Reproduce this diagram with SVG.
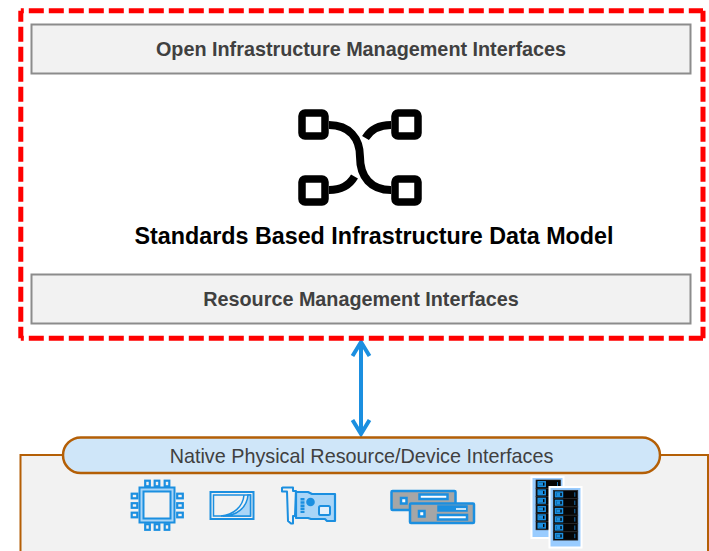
<svg xmlns="http://www.w3.org/2000/svg" width="709" height="551" viewBox="0 0 709 551">
<defs>
<style>
text{font-family:"Liberation Sans",Arial,sans-serif;text-anchor:middle}
.b{font-weight:bold}
.g{fill:#f2f2f2;stroke:#8c8c8c;stroke-width:2}
.i{fill:none;stroke:#000;stroke-width:8}
.s{fill:none;stroke:#000;stroke-width:7.500}
.d{fill:none;stroke:#ff0000;stroke-width:5;stroke-dasharray:15 5}
.bl{fill:none;stroke:#1b8fe0;stroke-width:2}
.p{fill:#a9d5f7;stroke:#1b8fe0;stroke-width:2}
.sv{fill:#a6a6a6;stroke:#1b8fe0;stroke-width:2.500}
.sl{fill:#fff;stroke:#1b8fe0;stroke-width:2.500}
.u{fill:#050505;stroke:#2a2a2a;stroke-width:.7}
.ub{fill:none;stroke:#1b8fe0;stroke-width:1.500}
</style>
<g id="pin"><rect x="-2.300" y="-2.800" width="4.600" height="5.600" fill="#f2f2f2" stroke="#1b8fe0" stroke-width="2.200"/></g>
<g id="pinh"><rect x="-2.800" y="-2.300" width="5.600" height="4.600" fill="#f2f2f2" stroke="#1b8fe0" stroke-width="2.200"/></g>
<g id="rack">
<rect class="u" x="0" y="0" width="24.500" height="8.300"/>
<rect class="ub" x="2.200" y="1.800" width="7" height="4.600"/>
<rect x="3" y="2.500" width="4" height="3.200" fill="#1b8fe0"/>
<line x1="21.500" y1="2" x2="21.500" y2="6.400" stroke="#1b6fb0" stroke-width="1"/>
</g>
</defs>

<g id="platform-box">
<rect x="20.500" y="455" width="687.500" height="110" fill="#f2f2f2" stroke="#b45f06" stroke-width="2"/>
</g>

<g id="connectors">
<path d="M361 343V432" fill="none" stroke="#1b8fe0" stroke-width="4"/>
<path d="M352.500 356L361 342L369.500 356M352.500 420L361 434L369.500 420" fill="none" stroke="#1b8fe0" stroke-width="4"/>
</g>

<g id="data-model-frame">
<path class="d" d="M20.800 10.800H703" stroke-dashoffset="12"/>
<path class="d" d="M20.800 338.300H703" stroke-dashoffset="12"/>
<path class="d" d="M20.800 10.800V338.300" stroke-dashoffset="4"/>
<path class="d" d="M703 10.800V338.300" stroke-dashoffset="4"/>
</g>

<g id="open-interfaces">
<rect class="g" x="31.500" y="24.500" width="659" height="49"/>
<text class="b" x="361" y="56" font-size="19.800" fill="#404040">Open Infrastructure Management Interfaces</text>
</g>

<g id="data-model">
<rect class="s" x="302" y="113" width="23" height="23" rx="3"/>
<rect class="s" x="395" y="113" width="23" height="23" rx="3"/>
<rect class="s" x="302" y="179" width="23" height="23" rx="3"/>
<rect class="s" x="395" y="179" width="23" height="23" rx="3"/>
<path class="i" d="M329 125C349 125 360 138 360 157C360 177 371 190 391 190"/>
<path class="i" d="M391 125C379 125 371 129 365.500 138"/>
<path class="i" d="M329 190C341 190 349 186 354.500 176.500"/>
<text class="b" x="374" y="244" font-size="23.300" fill="#000">Standards Based Infrastructure Data Model</text>
</g>

<g id="resource-interfaces">
<rect class="g" x="31.500" y="274.500" width="659" height="49"/>
<text class="b" x="361" y="306" font-size="19.800" fill="#404040">Resource Management Interfaces</text>
</g>

<g id="native-interfaces">
<rect x="63" y="437.500" width="597" height="35.500" rx="17.750" fill="#cfe6f9" stroke="#b45f06" stroke-width="2.500"/>
<text x="361.500" y="463" font-size="19.800" fill="#404040">Native Physical Resource/Device Interfaces</text>
</g>

<g id="cpu-icon">
<rect class="p" x="139.500" y="487.500" width="35" height="35"/>
<rect x="143.500" y="491.500" width="27" height="27" fill="#f2f2f2" stroke="#1b8fe0" stroke-width="2"/>
<use href="#pin" x="147.500" y="483.500"/><use href="#pin" x="157" y="483.500"/><use href="#pin" x="167" y="483.500"/>
<use href="#pin" x="147.500" y="527"/><use href="#pin" x="157" y="527"/><use href="#pin" x="167" y="527"/>
<use href="#pinh" x="134.500" y="496"/><use href="#pinh" x="134.500" y="505.500"/><use href="#pinh" x="134.500" y="515"/>
<use href="#pinh" x="180" y="496"/><use href="#pinh" x="180" y="505.500"/><use href="#pinh" x="180" y="515"/>
</g>

<g id="card-icon">
<rect x="210.500" y="492" width="43" height="27" fill="#f2f2f2" stroke="#1b8fe0" stroke-width="2"/>
<rect x="213.500" y="495" width="37" height="21" fill="none" stroke="#1b8fe0" stroke-width="1.500"/>
<path d="M248 495C247 508 236 516 223 516H250.500V495Z" fill="#a9d5f7" stroke="#1b8fe0" stroke-width="1.500"/>
<path d="M244 495C243 507 233 515 221 516" fill="none" stroke="#1b8fe0" stroke-width="1.500"/>
</g>

<g id="nic-icon">
<path d="M282 488V491.500H287L288 521L291 523.500H293V516H295L296 491H293V487.500H283Z" fill="#f2f2f2" stroke="#1b8fe0" stroke-width="2" stroke-linejoin="round"/>
<path d="M296 492H308L312 494H335V521H327L325 519H311L308 518H296Z" fill="#a9d5f7" stroke="#1b8fe0" stroke-width="2.200" stroke-linejoin="round"/>
<circle cx="310.500" cy="502" r="4.300" fill="#1b8fe0"/>
<path d="M302.500 498V513" stroke="#1b8fe0" stroke-width="4" stroke-dasharray="2.500 .7"/>
<rect x="319" y="506" width="11" height="9" rx="1.500" fill="#e4f0fb" stroke="#1b8fe0" stroke-width="2"/>
</g>

<g id="server-icon">
<rect class="sv" x="391.500" y="491" width="64" height="19" rx="1"/>
<rect class="sl" x="419.500" y="494.500" width="28" height="4.500"/>
<rect class="sl" x="401" y="498" width="5.500" height="5.500"/>
<rect class="sv" x="410" y="503.500" width="64" height="19.500" rx="1"/>
<rect x="438" y="506" width="29" height="5" fill="#1b8fe0" stroke="#1b8fe0" stroke-width="1.500"/>
<line x1="456" y1="509" x2="466" y2="509" stroke="#fff" stroke-width="1.500"/>
<rect class="sl" x="438" y="515" width="29" height="4.500"/>
<rect class="sl" x="419" y="511" width="5.500" height="5.500"/>
</g>

<g id="rack-icon">
<rect x="531.500" y="477" width="32" height="61" fill="#99ccff" stroke="#fff" stroke-width="2"/>
<use href="#rack" x="536" y="480"/><use href="#rack" x="536" y="488.300"/><use href="#rack" x="536" y="496.600"/><use href="#rack" x="536" y="504.900"/><use href="#rack" x="536" y="513.200"/><use href="#rack" x="536" y="521.500"/>
<rect x="549.500" y="487" width="32" height="60.500" fill="#99ccff" stroke="#fff" stroke-width="2"/>
<use href="#rack" x="553.300" y="490.300"/><use href="#rack" x="553.300" y="498.600"/><use href="#rack" x="553.300" y="506.900"/><use href="#rack" x="553.300" y="515.200"/><use href="#rack" x="553.300" y="523.500"/><use href="#rack" x="553.300" y="531.800"/>
</g>
</svg>
